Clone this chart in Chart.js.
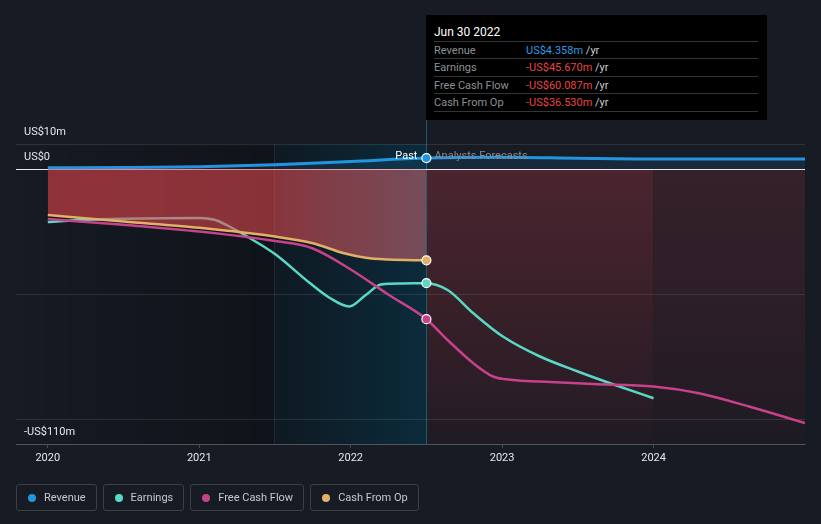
<!DOCTYPE html>
<html>
<head>
<meta charset="utf-8">
<script src="https://cdn.jsdelivr.net/npm/chart.js@4.4.1/dist/chart.umd.min.js"></script>
<style>
  html, body { margin:0; padding:0; background:#161b24; }
  body { width:821px; height:524px; position:relative; overflow:hidden; font-family: Roboto, "Liberation Sans", sans-serif; }
  #chart { position:absolute; left:0; top:0; }
  #tip { position:absolute; left:426px; top:15px; width:341px; height:105px; background:#000; font-size:11px; }
  #tip .title { position:absolute; left:8px; top:10px; color:#fff; font-size:12px; line-height:14px; }
  #tip .row { position:absolute; left:8px; width:324px; border-top:1px solid #353535; color:#8b9097; white-space:nowrap; }
  #tip .row .val { position:absolute; left:92px; top:0; }
  #tip .sep { position:absolute; left:8px; width:324px; top:96px; border-top:1px solid #353535; }
  .blue { color:#2f9be3; }
  .red { color:#ea4343; }
  .unit { color:#c9cbcf; }
  #legend { position:absolute; left:16px; top:484px; display:flex; gap:6px; }
  .item { height:25px; border:1px solid #3a3f48; border-radius:3px; display:flex; align-items:center; padding:0 10px 0 11px; color:#c6c9ce; font-size:11px; }
  .dot { width:8px; height:8px; border-radius:50%; margin-right:8px; }
</style>
</head>
<body>
<canvas id="chart" width="821" height="524"></canvas>
<div id="tip">
  <div class="title">Jun 30 2022</div>
  <div class="row" style="top:26px;height:17px;line-height:17px;">Revenue<span class="val"><span class="blue">US$4.358m</span> <span class="unit">/yr</span></span></div>
  <div class="row" style="top:43px;height:18px;line-height:18px;">Earnings<span class="val"><span class="red">-US$45.670m</span> <span class="unit">/yr</span></span></div>
  <div class="row" style="top:61px;height:17px;line-height:17px;">Free Cash Flow<span class="val"><span class="red">-US$60.087m</span> <span class="unit">/yr</span></span></div>
  <div class="row" style="top:78px;height:18px;line-height:18px;">Cash From Op<span class="val"><span class="red">-US$36.530m</span> <span class="unit">/yr</span></span></div>
  <div class="sep"></div>
</div>
<div id="legend">
  <div class="item"><span class="dot" style="background:#2394df"></span>Revenue</div>
  <div class="item"><span class="dot" style="background:#5ad8c6"></span>Earnings</div>
  <div class="item"><span class="dot" style="background:#c7428a"></span>Free Cash Flow</div>
  <div class="item"><span class="dot" style="background:#e3b067"></span>Cash From Op</div>
</div>
<script>
// ---- data ----
const nowDate = 2022.5;
const splitDate = 2024.0;
const bandStart = 2021.5;
const pastStart = 2020.0;
const xMin = 2019.79;
const xMax = 2025.0;
const xTickValues = [2020, 2021, 2022, 2023, 2024];
const xTickLabels = ['2020', '2021', '2022', '2023', '2024'];
const yTickValues = [10, 0, -50, -100, -110];
const yTickLabels = ['US$10m', 'US$0', '', '', '-US$110m'];

const revenueDates  = [2020.0, 2020.5, 2021.0, 2021.5, 2022.0, 2022.5, 2023.0, 2023.5, 2024.0, 2025.0];
const revenueValues = [0.5, 0.6, 0.9, 1.7, 3.0, 4.358, 4.7, 4.3, 4.0, 4.0];

const earningsDates  = [2020.0, 2020.25, 2020.5, 2021.0, 2021.1, 2021.2, 2021.33, 2021.5, 2021.73, 2021.86, 2021.99, 2022.1, 2022.2, 2022.35, 2022.5, 2022.64, 2022.81, 2023.0, 2023.25, 2023.5, 2023.75, 2024.0];
const earningsValues = [-21.2, -20.3, -19.9, -19.6, -20.3, -23, -27.5, -34, -45.6, -51.5, -55, -50.4, -46.2, -45.8, -45.67, -48.4, -57.7, -66.8, -75, -81, -86.5, -91.7];

const fcfDates  = [2020.0, 2020.5, 2021.0, 2021.5, 2021.75, 2022.0, 2022.25, 2022.5, 2022.64, 2022.81, 2022.94, 2023.07, 2023.25, 2023.6, 2024.0, 2024.3, 2024.63, 2025.0];
const fcfValues = [-20, -22.3, -25, -28.8, -31.8, -40.2, -50.3, -60.087, -68.4, -77.7, -83, -84.4, -85, -86, -87, -89.7, -95, -101.6];

const cfoDates  = [2020.0, 2020.5, 2021.0, 2021.5, 2021.75, 2021.95, 2022.1, 2022.25, 2022.5];
const cfoValues = [-18.4, -21, -23.5, -27, -29.7, -33.6, -35.5, -36.2, -36.53];

// ---- chart ----
const pts = (xs, ys) => xs.map((x, i) => ({ x: x, y: ys[i] }));
const dotRadius = c => (c.raw && c.raw.x === nowDate) ? 4.5 : 0;

function cfoFill(c) {
  const ch = c.chart;
  if (!ch.chartArea) return 'rgba(240,70,75,0.58)';
  const xs = ch.scales.x;
  const x0 = xs.getPixelForValue(pastStart), x1 = xs.getPixelForValue(nowDate);
  const g = ch.ctx.createLinearGradient(x0, 0, x1, 0);
  g.addColorStop(0, 'rgba(235,68,74,0.58)');
  g.addColorStop(0.6, 'rgba(235,76,82,0.55)');
  g.addColorStop(1, 'rgba(235,115,125,0.47)');
  return g;
}

const panels = {
  id: 'panels',
  beforeDraw(chart) {
    const ctx = chart.ctx, a = chart.chartArea, x = chart.scales.x, y = chart.scales.y;
    const xb = x.getPixelForValue(bandStart), xn = x.getPixelForValue(nowDate), xs = x.getPixelForValue(splitDate);
    const y0 = y.getPixelForValue(0);
    ctx.save();
    let g = ctx.createLinearGradient(a.left, 0, xb, 0);
    g.addColorStop(0, 'rgba(0,0,0,0)');
    g.addColorStop(1, 'rgba(0,0,0,0.28)');
    ctx.fillStyle = g;
    ctx.fillRect(a.left, a.top, xb - a.left, a.bottom - a.top);

    g = ctx.createLinearGradient(xb, 0, xn, 0);
    g.addColorStop(0, '#0f1922');
    g.addColorStop(1, '#0b2b3b');
    ctx.fillStyle = g;
    ctx.fillRect(xb, a.top, xn - xb, a.bottom - a.top);

    g = ctx.createLinearGradient(0, y0, 0, a.bottom);
    g.addColorStop(0, '#4b2530');
    g.addColorStop(0.45, '#3a2029');
    g.addColorStop(0.8, '#2c1d26');
    g.addColorStop(1, '#1f1b24');
    ctx.fillStyle = g;
    ctx.fillRect(xn, y0, xs - xn, a.bottom - y0);

    g = ctx.createLinearGradient(0, y0, 0, a.bottom);
    g.addColorStop(0, '#35212a');
    g.addColorStop(0.45, '#2d1e27');
    g.addColorStop(0.8, '#251c25');
    g.addColorStop(1, '#1c1a23');
    ctx.fillStyle = g;
    ctx.fillRect(xs, y0, a.right - xs, a.bottom - y0);

    ctx.fillStyle = 'rgba(70,90,105,0.35)';
    ctx.fillRect(Math.floor(xb), a.top, 1, a.bottom - a.top);
    ctx.fillStyle = '#1d5a6c';
    ctx.fillRect(Math.floor(xn), 120, 1, a.bottom - 120);
    ctx.restore();
  },
  afterDatasetsDraw(chart) {
    const ctx = chart.ctx, x = chart.scales.x, y = chart.scales.y;
    const xn = x.getPixelForValue(nowDate), y0 = y.getPixelForValue(0);
    ctx.save();
    ctx.font = '11px Roboto';
    ctx.textBaseline = 'middle';
    ctx.textAlign = 'right';
    ctx.fillStyle = '#ffffff';
    ctx.fillText('Past', xn - 9, y0 - 13);
    ctx.textAlign = 'left';
    ctx.fillStyle = '#858b94';
    ctx.fillText('Analysts Forecasts', xn + 8, y0 - 13);
    ctx.restore();
  }
};

Chart.defaults.font.family = 'Roboto';

const common = {
  cubicInterpolationMode: 'monotone',
  pointRadius: dotRadius,
  pointHoverRadius: 0,
  pointBorderColor: '#ffffff',
  pointBorderWidth: 1.2
};

new Chart(document.getElementById('chart'), {
  type: 'line',
  data: {
    datasets: [
      Object.assign({ label: 'Revenue', data: pts(revenueDates, revenueValues), borderColor: '#2394df', pointBackgroundColor: '#2394df', borderWidth: 3, fill: 'origin', backgroundColor: 'rgba(35,148,223,0.12)', order: 1 }, common),
      Object.assign({ label: 'Earnings', data: pts(earningsDates, earningsValues), borderColor: '#5ad8c6', pointBackgroundColor: '#5ad8c6', borderWidth: 2.5, fill: false, order: 4 }, common),
      Object.assign({ label: 'Free Cash Flow', data: pts(fcfDates, fcfValues), borderColor: '#c7428a', pointBackgroundColor: '#c7428a', borderWidth: 2.5, fill: false, order: 2 }, common),
      Object.assign({ label: 'Cash From Op', data: pts(cfoDates, cfoValues), borderColor: '#e3b067', pointBackgroundColor: '#e3b067', borderWidth: 2.5, fill: 'origin', backgroundColor: cfoFill, order: 3 }, common)
    ]
  },
  options: {
    responsive: false,
    animation: false,
    events: [],
    layout: { padding: { left: 16, right: 16, top: 144, bottom: 50 } },
    plugins: { legend: { display: false }, tooltip: { enabled: false } },
    scales: {
      x: {
        type: 'linear', min: xMin, max: xMax,
        afterBuildTicks: s => { s.ticks = xTickValues.map(v => ({ value: v })); },
        afterFit: s => { s.height = 30; },
        ticks: { color: '#e4e6ea', font: { size: 11 }, padding: 4, maxRotation: 0, autoSkip: false, callback: (v, i) => xTickLabels[i] },
        grid: { drawOnChartArea: false, drawTicks: true, tickLength: 4, color: 'rgba(255,255,255,0.2)' },
        border: { display: true, color: 'rgba(255,255,255,0.17)', width: 1 }
      },
      y: {
        min: -110, max: 10,
        afterBuildTicks: s => { s.ticks = yTickValues.map(v => ({ value: v })); },
        afterFit: s => { s.width = 0; },
        ticks: { mirror: true, padding: 8, labelOffset: -12, color: '#e4e6ea', font: { size: 11 }, callback: (v, i) => yTickLabels[i] },
        grid: { drawTicks: false, color: c => (c.tick && c.tick.value === 0) ? '#ece6e6' : 'rgba(255,255,255,0.1)', lineWidth: 1 },
        border: { display: false }
      }
    }
  },
  plugins: [panels]
});
</script>
</body>
</html>
